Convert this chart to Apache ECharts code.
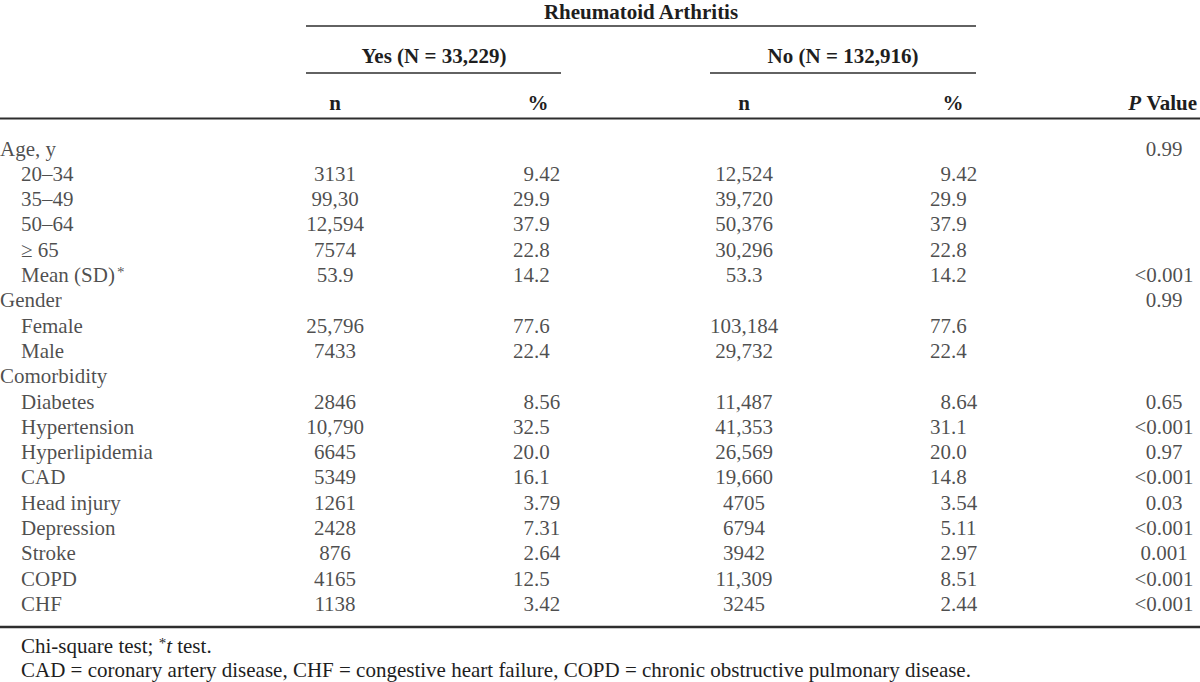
<!DOCTYPE html>
<html>
<head>
<meta charset="utf-8">
<script src="https://cdn.jsdelivr.net/npm/echarts@6/dist/echarts.min.js"></script>
<style>
html,body{margin:0;padding:0;background:#fff;}
#chart{width:1200px;height:682px;}
</style>
</head>
<body>
<div id="chart"></div>
<script>
// ---- Data ----
var rowLabels = ['Age, y','20–34','35–49','50–64','≥ 65','Mean (SD)*','Gender','Female','Male','Comorbidity',
  'Diabetes','Hypertension','Hyperlipidemia','CAD','Head injury','Depression','Stroke','COPD','CHF'];
var groupRows = ['Age, y','Gender','Comorbidity'];
var yesN   = ['','3131','99,30','12,594','7574','53.9','','25,796','7433','','2846','10,790','6645','5349','1261','2428','876','4165','1138'];
var yesPct = ['','9.42','29.9','37.9','22.8','14.2','','77.6','22.4','','8.56','32.5','20.0','16.1','3.79','7.31','2.64','12.5','3.42'];
var noN    = ['','12,524','39,720','50,376','30,296','53.3','','103,184','29,732','','11,487','41,353','26,569','19,660','4705','6794','3942','11,309','3245'];
var noPct  = ['','9.42','29.9','37.9','22.8','14.2','','77.6','22.4','','8.64','31.1','20.0','14.8','3.54','5.11','2.97','8.51','2.44'];
var pValue = ['0.99','','','','','<0.001','0.99','','','','0.65','<0.001','0.97','<0.001','0.03','<0.001','0.001','<0.001','<0.001'];

var spanHeader = 'Rheumatoid Arthritis';
var groupHeaders = ['Yes (N = 33,229)', 'No (N = 132,916)'];
var colHeaders = ['n', '%', 'n', '%'];
var pHeader = '{i|P} Value';
var footnote1 = '{t|Chi-square test; }{sup|*}{it|t}{t| test.}';
var footnote2 = 'CAD = coronary artery disease, CHF = congestive heart failure, COPD = chronic obstructive pulmonary disease.';

// ---- Layout (positions only) ----
var FONT = '"Liberation Serif", "Times New Roman", serif';
var FS = 21;
var TXT = '#1e1e1e';
var RULE = '#2e2e2e';
var COL = {label: 0, indent: 21, yesN: 335, yesPct: 513, noN: 744, noPct: 930, p: 1164};
var bodyTop = 135.9, rowH = 25.3;

function pad1(s){ // figure-space pad for single integer digit percentages
  var ip = s.split('.')[0];
  return ip.length === 1 ? '\u2007' + s : s;
}

var supStyle = {fontFamily: FONT, fontSize: 15, color: TXT, verticalAlign: 'top', padding: [0,0,0,2]};

function colSeries(name, values, x, align, fmt){
  var data = [];
  values.forEach(function(v, i){ if (v !== '') data.push({value:[x, i], text: v}); });
  return {
    type: 'scatter', name: name, data: data, symbolSize: 0, silent: true,
    itemStyle: {color: 'transparent'},
    label: {
      show: true, position: 'inside', align: align, verticalAlign: 'middle',
      fontFamily: FONT, fontSize: FS, color: TXT,
      formatter: function(p){ return fmt ? fmt(p.data.text) : p.data.text; }
    }
  };
}

var labelData = rowLabels.map(function(l, i){
  return {value: [groupRows.indexOf(l) >= 0 ? COL.label : COL.indent, i], text: l};
});

var chart = echarts.init(document.getElementById('chart'), null, {renderer: 'svg'});

var bold = {fontFamily: FONT, fontSize: FS, fontWeight: 'bold', fill: TXT};
function txt(text, x, y, align, extra){
  var st = Object.assign({text: text, x: x, y: y, align: align, verticalAlign: 'middle'}, bold, extra || {});
  return {type: 'text', silent: true, style: st};
}
function rule(x1, x2, y, w){
  return {type: 'line', silent: true, shape: {x1: x1, y1: y, x2: x2, y2: y}, style: {stroke: RULE, lineWidth: w}};
}

chart.setOption({
  animation: false,
  backgroundColor: '#fff',
  grid: {left: 0, right: 0, top: bodyTop, height: rowH * rowLabels.length},
  xAxis: {type: 'value', min: 0, max: 1200, show: false},
  yAxis: {type: 'category', data: rowLabels, inverse: true, show: false},
  series: [
    {
      type: 'scatter', name: 'labels', data: labelData, symbolSize: 0, silent: true,
      itemStyle: {color: 'transparent'},
      label: {
        show: true, position: 'inside', align: 'left', verticalAlign: 'middle',
        fontFamily: FONT, fontSize: FS, color: TXT,
        formatter: function(p){
          var t = p.data.text;
          if (t.charAt(t.length - 1) === '*') return '{t|' + t.slice(0, -1) + '}{sup|*}';
          return '{t|' + t + '}';
        },
        rich: {
          t: {fontFamily: FONT, fontSize: FS, color: TXT},
          sup: supStyle
        }
      }
    },
    colSeries('yesN', yesN, COL.yesN, 'center'),
    colSeries('yesPct', yesPct, COL.yesPct, 'left', pad1),
    colSeries('noN', noN, COL.noN, 'center'),
    colSeries('noPct', noPct, COL.noPct, 'left', pad1),
    colSeries('p', pValue, COL.p, 'center')
  ],
  graphic: [
    txt(spanHeader, 641, 12, 'center'),
    rule(306, 976, 26, 1.5),
    txt(groupHeaders[0], 434, 56, 'center'),
    txt(groupHeaders[1], 843, 56, 'center'),
    rule(306, 561, 73, 1.5),
    rule(710, 976, 73, 1.5),
    txt(colHeaders[0], COL.yesN, 103, 'center'),
    txt(colHeaders[1], 538, 103, 'center'),
    txt(colHeaders[2], COL.noN, 103, 'center'),
    txt(colHeaders[3], 953, 103, 'center'),
    txt(pHeader, 1197, 103, 'right', {rich: {i: {fontFamily: FONT, fontSize: FS, fontWeight: 'bold', fontStyle: 'italic', fill: TXT}}}),
    rule(0, 1200, 118.5, 2),
    rule(0, 1200, 627, 2.5),
    {type: 'text', silent: true, style: {text: footnote1, x: 21, y: 646, verticalAlign: 'middle', fontFamily: FONT, fontSize: FS, lineHeight: 22, fill: TXT,
      rich: {
        t: {fontFamily: FONT, fontSize: FS, lineHeight: 22, fill: TXT},
        it: {fontFamily: FONT, fontSize: FS, lineHeight: 22, fontStyle: 'italic', fill: TXT},
        sup: {fontFamily: FONT, fontSize: 15, lineHeight: 15, fill: TXT, verticalAlign: 'top'}
      }}},
    {type: 'text', silent: true, style: {text: footnote2, x: 21, y: 670, verticalAlign: 'middle', fontFamily: FONT, fontSize: FS, lineHeight: 22, fill: TXT}}
  ]
});
</script>
</body>
</html>
